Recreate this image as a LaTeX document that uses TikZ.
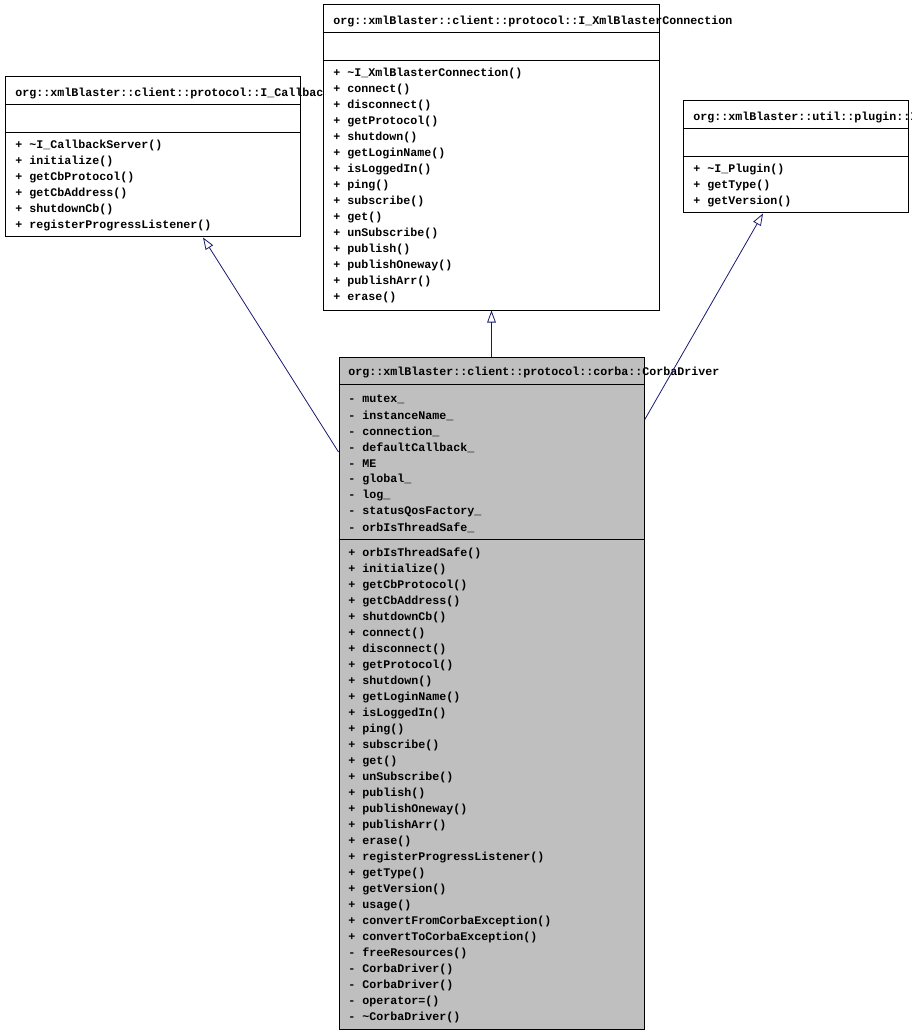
\documentclass[tikz,border=0pt]{standalone}
\usepackage{fontspec}
\setmonofont{Liberation Mono}
\usetikzlibrary{arrows.meta,fit}
\definecolor{edgeblue}{RGB}{25,25,112}
\definecolor{classgray}{RGB}{191,191,191}

\begin{document}
\begin{tikzpicture}[x=0.75pt, y=-0.75pt,
  txt/.style={anchor=west, inner sep=0pt, yshift=-1.1pt, font=\ttfamily\bfseries\fontsize{8.75}{10}\selectfont},
  classbox/.style={draw=black, line width=0.75pt, inner sep=0pt, fill=white},
  inherit/.style={draw=edgeblue, line width=0.6pt, -{Triangle[open, length=9pt, width=6.5pt]}}]

\useasboundingbox (0,0) rectangle (911,1034);

% I_CallbackServer
\node[classbox, fit={(5,77) (300,237)}] (cbserver) {};
\draw (cbserver.west |- 0,104) -- (cbserver.east |- 0,104);
\draw (cbserver.west |- 0,132) -- (cbserver.east |- 0,132);
\node[txt] (cbserver-name) at (15,92) {org::xmlBlaster::client::protocol::I\_CallbackServer};
\foreach \m [count=\i from 0] in {\textasciitilde I\_CallbackServer(), initialize(), getCbProtocol(),
    getCbAddress(), shutdownCb(), registerProgressListener()}
  \node[txt] (cbserver-m\i) at (15,144+16*\i) {+ \m};

% I_XmlBlasterConnection
\node[classbox, fit={(323,5) (659,310)}] (conn) {};
\draw (conn.west |- 0,32) -- (conn.east |- 0,32);
\draw (conn.west |- 0,60) -- (conn.east |- 0,60);
\node[txt] (conn-name) at (333,20) {org::xmlBlaster::client::protocol::I\_XmlBlasterConnection};
\foreach \m [count=\i from 0] in {\textasciitilde I\_XmlBlasterConnection(), connect(), disconnect(),
    getProtocol(), shutdown(), getLoginName(), isLoggedIn(), ping(), subscribe(), get(),
    unSubscribe(), publish(), publishOneway(), publishArr(), erase()}
  \node[txt] (conn-m\i) at (333,72+16*\i) {+ \m};

% I_Plugin
\node[classbox, fit={(683,101) (908,213)}] (plugin) {};
\draw (plugin.west |- 0,128) -- (plugin.east |- 0,128);
\draw (plugin.west |- 0,156) -- (plugin.east |- 0,156);
\node[txt] (plugin-name) at (693,116) {org::xmlBlaster::util::plugin::I\_Plugin};
\foreach \m [count=\i from 0] in {\textasciitilde I\_Plugin(), getType(), getVersion()}
  \node[txt] (plugin-m\i) at (693,168+16*\i) {+ \m};

% CorbaDriver
\node[classbox, fill=classgray, fit={(339,357) (644,1029)}] (corba) {};
\draw (corba.west |- 0,384) -- (corba.east |- 0,384);
\draw (corba.west |- 0,539) -- (corba.east |- 0,539);
\node[txt] (corba-name) at (348,371) {org::xmlBlaster::client::protocol::corba::CorbaDriver};
\foreach \a [count=\i from 0] in {mutex\_, instanceName\_, connection\_, defaultCallback\_, ME,
    global\_, log\_, statusQosFactory\_, orbIsThreadSafe\_}
  \node[txt] (corba-a\i) at (348,398+16*\i) {- \a};
\foreach \m [count=\i from 0] in {+ orbIsThreadSafe(), + initialize(), + getCbProtocol(),
    + getCbAddress(), + shutdownCb(), + connect(), + disconnect(), + getProtocol(), + shutdown(),
    + getLoginName(), + isLoggedIn(), + ping(), + subscribe(), + get(), + unSubscribe(),
    + publish(), + publishOneway(), + publishArr(), + erase(), + registerProgressListener(),
    + getType(), + getVersion(), + usage(), + convertFromCorbaException(),
    + convertToCorbaException(), - freeResources(), - CorbaDriver(), - CorbaDriver(),
    - operator=(), - \textasciitilde CorbaDriver()}
  \node[txt] (corba-m\i) at (348,552+16*\i) {\m};

% generalisations
\draw[inherit] (corba.west |- 0,452) -- (cbserver.south -| 203,0);
\draw[inherit] (corba.north) -- (corba.north |- conn.south);
\draw[inherit] (corba.east |- 0,420) -- (plugin.south -| 763,0);

\end{tikzpicture}
\end{document}
